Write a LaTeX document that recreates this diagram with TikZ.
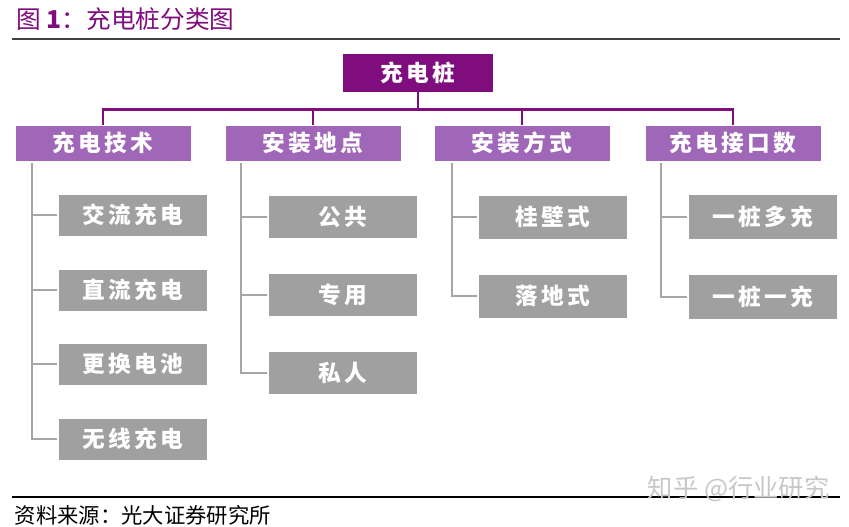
\documentclass[tikz,border=0pt]{standalone}
\usepackage{fontspec}
\usepackage{tikz}
\usetikzlibrary{positioning,calc}
\newfontfamily\cjkbox{Noto Sans CJK SC}[LetterSpace=15]
\newfontfamily\cjksans{Noto Sans CJK SC}
\definecolor{rootpurple}{HTML}{7F0D7E}
\definecolor{catpurple}{HTML}{A066B8}
\definecolor{leafgray}{HTML}{A0A0A0}
\definecolor{linegray}{HTML}{A6A6A6}
\tikzset{
  rootbox/.style={fill=rootpurple,text=white,minimum width=112.5pt,minimum height=28.5pt,inner sep=0pt,font=\cjkbox\bfseries\fontsize{17}{17}\selectfont},
  catbox/.style={fill=catpurple,text=white,minimum width=131.25pt,minimum height=26.25pt,inner sep=0pt,font=\cjkbox\bfseries\fontsize{17}{17}\selectfont},
  leafbox/.style={fill=leafgray,text=white,minimum width=111pt,minimum height=30.75pt,inner sep=0pt,font=\cjkbox\bfseries\fontsize{17}{17}\selectfont},
  trunk/.style={draw=rootpurple,line width=2.2pt},
  branch/.style={draw=linegray,line width=2.2pt,shorten >=1.5pt},
}
\begin{document}
\begin{tikzpicture}[x=0.75pt,y=-0.75pt]
\useasboundingbox (0,0) rectangle (849,526);

% title and rules
\node[anchor=west,text=rootpurple,font=\cjksans\fontsize{18.5}{18.5}\selectfont] (title) at (12,19) {图 {\bfseries 1}：充电桩分类图};
\draw[black!75,line width=1.5pt] (12,39) -- (840,39);
\draw[black,line width=1pt] (12,497) -- (840,497);
\node[anchor=west,font=\cjksans\fontsize{16}{16}\selectfont] (source) at (10,515) {资料来源：光大证券研究所};
\node[anchor=west,text=black!22,font=\cjksans\fontsize{19}{19}\selectfont] (mark) at (643,489) {知乎 @行业研究};

% root and the four categories
\node[rootbox] (root) at (418,73) {充电桩};
\node[catbox] (tech) at (103,143) {充电技术};
\node[catbox] (site) at (313,143) {安装地点};
\node[catbox] (mount) at (522,143) {安装方式};
\node[catbox] (port) at (733,143) {充电接口数};

\foreach \c in {tech,site,mount,port}
  \draw[trunk] (root.south) -- ++(0,17) -| (\c.north);

% leaves of each category
\node[leafbox] (ac) at (133,215) {交流充电};
\node[leafbox] (dc) at (133,290) {直流充电};
\node[leafbox] (swap) at (133,364) {更换电池};
\node[leafbox] (wireless) at (133,439) {无线充电};

\node[leafbox,minimum height=31.5pt] (public) at (343,217) {公共};
\node[leafbox,minimum height=31.5pt] (dedicated) at (343,295) {专用};
\node[leafbox,minimum height=31.5pt] (private) at (343,373) {私人};

\node[leafbox,minimum height=32.25pt] (wall) at (553,217) {桂壁式};
\node[leafbox,minimum height=32.25pt] (floor) at (553,296) {落地式};

\node[leafbox,minimum height=33pt] (multi) at (763,217) {一桩多充};
\node[leafbox,minimum height=33pt] (single) at (763,297) {一桩一充};

% gray branch lines
\coordinate (techbar) at (32,163);
\coordinate (sitebar) at (241,163);
\coordinate (mountbar) at (452,163);
\coordinate (portbar) at (661,163);

\draw[branch] (techbar) |- (wireless.west);
\foreach \l in {ac,dc,swap}
  \draw[branch] (techbar |- \l.west) -- (\l.west);
\draw[branch] (sitebar) |- (private.west);
\foreach \l in {public,dedicated}
  \draw[branch] (sitebar |- \l.west) -- (\l.west);
\draw[branch] (mountbar) |- (floor.west);
\draw[branch] (mountbar |- wall.west) -- (wall.west);
\draw[branch] (portbar) |- (single.west);
\draw[branch] (portbar |- multi.west) -- (multi.west);

\end{tikzpicture}
\end{document}
